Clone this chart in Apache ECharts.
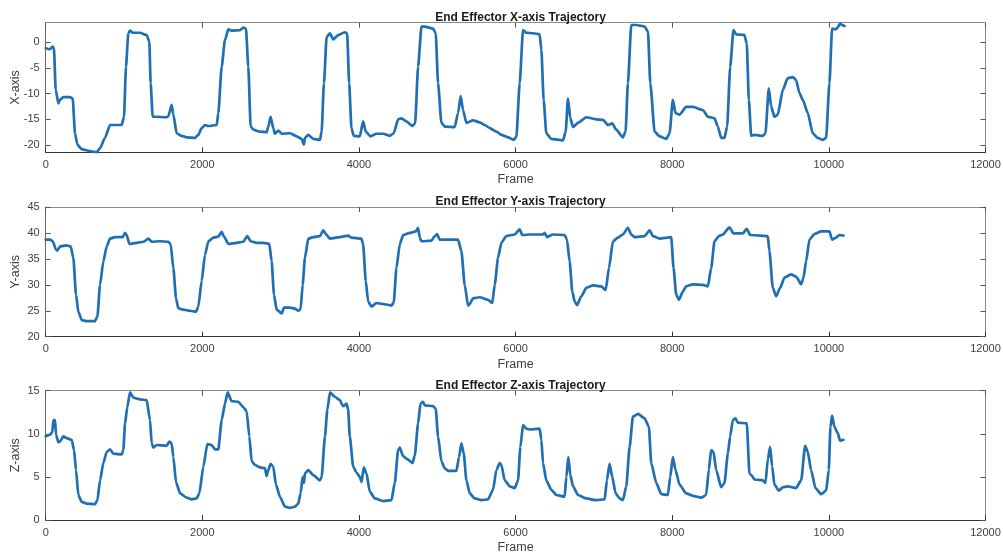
<!DOCTYPE html>
<html>
<head>
<meta charset="utf-8">
<script src="https://cdn.jsdelivr.net/npm/echarts@6/dist/echarts.min.js"></script>
<style>
html,body{margin:0;padding:0;background:#fff;}
#chart{width:1003px;height:557px;}
</style>
</head>
<body>
<div id="chart"></div>
<script>
// ---- data (frame, value) ----
const xFrames = [0,55,89,105,128,162,183,225,310,345,374,404,460,545,651,694,757,821,885,970,1000,1025,1055,1077,1111,1204,1289,1323,1340,1366,1396,1544,1566,1608,1630,1672,1736,1800,1906,1949,1991,2034,2077,2183,2204,2247,2289,2332,2374,2481,2523,2557,2587,2617,2651,2736,2821,2842,2872,2906,2927,2970,3013,3119,3204,3268,3298,3310,3353,3417,3502,3523,3553,3587,3630,3670,3734,3819,3849,3875,3904,3934,4011,4053,4087,4147,4223,4309,4393,4444,4500,4542,4606,4683,4717,4755,4798,4840,4946,4980,5010,5053,5095,5223,5265,5299,5329,5372,5457,5542,5606,5670,5755,5818,5903,5976,6010,6052,6095,6137,6222,6307,6329,6358,6392,6456,6605,6639,6669,6699,6733,6797,6903,7030,7116,7179,7234,7285,7370,7404,7434,7477,7541,7647,7690,7720,7775,7839,7923,7966,8008,8042,8093,8178,8263,8391,8455,8540,8582,8625,8667,8701,8740,8782,8816,8922,8952,8978,9008,9050,9156,9190,9233,9263,9305,9348,9412,9475,9540,9582,9624,9667,9731,9794,9858,9922,9965,10007,10041,10083,10113,10143,10169,10199];
const xVals = [-1.2,-1.4,-0.9,-1.2,-9.3,-11.9,-11.2,-10.7,-10.7,-11,-17.7,-19.9,-20.8,-21.1,-21.4,-20.6,-18.6,-16.1,-16.1,-16.1,-14.5,-4.8,1.7,2.2,1.8,1.8,1.35,0.06,-8,-14.5,-14.5,-14.6,-14.4,-12.2,-14.1,-17.7,-18.2,-18.5,-18.6,-18,-16.7,-16.1,-16.3,-16.1,-13.8,-4.8,0.4,2.45,2.2,2.3,2.8,2.6,-4.8,-16.4,-17,-17.4,-17.5,-16.4,-14.5,-16.7,-17.8,-17.2,-17.8,-17.7,-18.3,-18.8,-19.9,-18.6,-18,-18.8,-19,-17.4,-8,1,1.7,0.5,1.35,1.9,1.7,-8,-16.7,-18.2,-18.3,-15.4,-17.4,-18.3,-17.8,-17.8,-18.2,-17.7,-15,-14.8,-15.4,-16.3,-15.8,-4.8,3,3,2.6,1.7,-8,-15.7,-16.4,-16.5,-13.8,-10.5,-13.2,-15.7,-15.2,-15.6,-16.1,-16.7,-17.4,-18,-18.5,-19,-18.4,-8,2.3,1.8,1.7,1.5,-1.5,-11.2,-17.7,-18.8,-19.1,-17.4,-11,-14.8,-16.5,-15.7,-14.6,-15,-15.1,-16.1,-15.8,-17,-18.5,-17.4,-8,3.3,3.3,3,2,-8,-17.4,-18.3,-18.8,-17.7,-11.2,-13.8,-14.1,-12.6,-12.6,-13.2,-14.5,-14.8,-16.4,-18.6,-18.6,-16.4,-4.8,2.3,1.5,1.35,-0.3,-11.2,-18.2,-18,-18.2,-17.7,-9,-12.5,-14.5,-14.1,-9.3,-7,-6.8,-7.4,-9.9,-11.2,-13.8,-17.7,-18.6,-19,-18.6,-8,2.6,2.45,2.8,3.6,3.3,3.1];

const yFrames = [0,55,89,132,149,183,268,319,353,387,417,460,523,630,660,694,736,779,821,885,983,1013,1034,1068,1162,1247,1311,1353,1459,1566,1596,1630,1664,1693,1757,1842,1919,1949,1991,2034,2077,2140,2204,2247,2276,2332,2438,2523,2574,2617,2693,2778,2855,2885,2915,2949,3013,3042,3119,3183,3225,3255,3281,3310,3353,3417,3502,3544,3587,3630,3757,3862,3904,4032,4053,4087,4117,4160,4223,4309,4415,4444,4478,4521,4564,4649,4725,4755,4776,4798,4925,4968,4997,5031,5159,5265,5308,5350,5393,5414,5457,5542,5648,5703,5733,5776,5818,5882,5989,6052,6086,6180,6350,6371,6401,6477,6626,6656,6690,6724,6754,6784,6839,6903,6988,7094,7150,7192,7243,7307,7370,7434,7477,7520,7647,7711,7754,7839,7987,8017,8051,8085,8136,8178,8263,8391,8455,8497,8540,8595,8646,8731,8782,8901,8952,8995,9114,9220,9241,9284,9327,9378,9433,9518,9582,9646,9675,9709,9752,9816,9901,10007,10041,10092,10135,10186];
const yVals = [38.7,38.7,38.4,36.8,36.6,37.4,37.6,37.4,35.2,28.1,24.8,23.2,23,23,23.9,30,34.5,37.4,38.9,39.2,39.2,40,39.6,37.9,38.1,38.3,38.9,38.3,38.4,38.3,37.8,33.2,27.4,25.5,25.2,25,24.8,25.8,30.7,35.8,38.4,39.1,39.3,40.2,39.3,37.9,38.1,38.3,39.4,38.4,38.1,38.1,37.9,34.5,28.1,25.2,24.5,25.6,25.6,25.4,25,25.3,30,35.2,38.9,39.2,39.4,40.5,39.6,38.9,39.2,39.5,39.1,38.9,37.8,30.7,26.8,25.8,26.5,26.3,26,26.6,33.2,37.8,39.6,40,40.3,41,39.1,38.4,38.5,39.4,39.8,38.7,38.7,38.7,36.5,30,26,26.3,27.4,27.6,27.1,26.5,30,35.2,38.1,39.4,39.7,40.7,39.6,39.7,39.7,40,39.2,39.7,39.6,38.7,34.5,28.7,26.8,26.1,27.8,29.4,29.9,29.7,29,33.2,38.4,39.1,39.7,41,39.7,39.2,39.4,40.5,39.4,38.9,39.2,33.2,28.1,27.1,28.7,29.7,30.1,30,29.7,33.2,38.4,39.4,39.7,41.1,39.9,39.9,40.8,39.6,39.5,39.4,36.5,29.4,27.8,29.4,31.4,32,31.6,30.1,31.3,34.5,38.7,39.8,40.3,40.3,38.7,39.1,39.6,39.5];

const zFrames = [0,55,85,98,119,132,162,183,225,268,332,362,387,417,460,523,630,660,694,736,779,821,864,970,991,1013,1042,1077,1119,1204,1289,1332,1353,1374,1417,1544,1579,1608,1630,1664,1715,1800,1864,1927,1962,2013,2064,2119,2162,2204,2247,2289,2323,2374,2459,2523,2566,2600,2630,2672,2736,2800,2821,2842,2872,2906,2940,2991,3055,3119,3183,3225,3255,3281,3298,3310,3353,3417,3502,3523,3566,3596,3630,3692,3756,3798,3841,3862,3883,3926,3968,4011,4032,4062,4096,4138,4202,4309,4415,4457,4500,4521,4564,4627,4683,4713,4755,4785,4819,4840,4946,4980,5010,5053,5095,5138,5244,5278,5308,5338,5372,5414,5478,5563,5648,5712,5755,5797,5818,5861,5925,5989,6031,6061,6095,6137,6180,6307,6329,6350,6392,6456,6520,6626,6648,6673,6699,6733,6797,6903,7030,7137,7166,7200,7234,7277,7328,7370,7413,7456,7498,7562,7647,7702,7732,7796,7860,7945,7974,8008,8042,8093,8178,8263,8370,8433,8467,8497,8527,8561,8625,8667,8710,8740,8774,8808,8837,8952,8986,9020,9050,9156,9190,9220,9250,9276,9305,9361,9412,9475,9582,9646,9697,9731,9773,9829,9901,9965,9999,10020,10041,10071,10113,10143,10186];
const zVals = [9.7,9.9,10.2,11.6,11.6,9.9,9,9.1,9.7,9.5,9.3,8.1,5.8,2.9,2.1,1.9,1.85,2.3,4.6,6.6,7.9,8.2,7.7,7.6,8.1,11.2,13.1,14.8,14.2,14,13.9,11.6,8.9,8.4,8.7,8.6,9.1,8.9,7.3,4.4,3.1,2.6,2.4,2.5,3.1,6.2,8.8,8.7,8.2,8.2,11.6,13.5,14.8,13.8,13.7,13.1,12.6,9.7,6.8,6.4,6.1,6,5.1,5.8,6.5,6.2,4.1,2.7,1.55,1.4,1.55,1.9,3.1,5,4.3,5.4,5.8,5.2,4.6,5,9.7,12.8,14.8,14.3,13.9,13.2,13.5,12.8,9.7,6.2,5.5,5,4.4,6.1,5.4,3.3,2.5,2.2,2.3,4.3,8.1,8.4,7.4,7,6.6,7.5,11.2,13.5,13.7,13.3,13.2,12.9,9.7,6.8,6,5.7,5.7,7.3,8.9,7.7,4.6,3.1,2.5,2.3,2.4,3.5,5.8,6.6,6.4,4.6,3.9,3.7,4.6,8.5,11,10.6,10.5,10.6,9.3,6.6,4.6,3.5,2.9,2.7,5,7.3,5.2,3.9,2.9,2.5,2.3,2.4,4.6,6.5,5,3.1,2.5,2.3,3.9,8.5,12,12.3,11.8,10.8,6.6,4.3,3,2.9,5,7.3,5.8,4.1,3.1,2.8,2.6,2.9,5.8,8.1,7.9,5.8,3.8,4.3,7.7,9.7,11.6,11.8,11.3,11.2,5.4,5.1,4.7,4.6,4.3,7,8.5,6.2,4.1,3.4,3.8,3.9,3.7,4.6,8.6,7.9,5.8,3.7,3,3.4,5.8,10.8,12.1,10.8,10.1,9.2,9.3];

const titles = ['End Effector X-axis Trajectory','End Effector Y-axis Trajectory','End Effector Z-axis Trajectory'];
const yNames = ['X-axis','Y-axis','Z-axis'];
const yMin = [-21.4, 20, 0];
const yMax = [3.75, 45, 15];
const yTicks = [[-20,-15,-10,-5,0],[20,25,30,35,40,45],[0,5,10,15]];
const xTicks = [0,2000,4000,6000,8000,10000,12000];

const frames = [xFrames, yFrames, zFrames];
const vals = [xVals, yVals, zVals];

const FONT = 'Liberation Sans, Arial, Helvetica, sans-serif';
const gridTops = [22.7, 207, 390.7];
const gridH = [129.6, 129.7, 129.3];
const plain = v => String(v);

const grids = [], xAxes = [], yAxes = [], series = [], titleArr = [];
for (let i = 0; i < 3; i++) {
  grids.push({left: 45.7, width: 939.8, top: gridTops[i], height: gridH[i],
    containLabel: false, outerBoundsMode: 'none'});
  titleArr.push({text: titles[i], left: 515.6, textAlign: 'center', top: gridTops[i] - 16,
    textStyle: {fontFamily: FONT, fontSize: 12, fontWeight: 'bold', color: '#1a1a1a'}});
  xAxes.push({
    gridIndex: i, type: 'value', min: 0, max: 12000, interval: 2000, position: 'bottom',
    name: 'Frame', nameLocation: 'middle', nameGap: 21, nameMoveOverlap: false,
    nameTextStyle: {fontFamily: FONT, fontSize: 12.5, color: '#404040'},
    axisLine: {show: true, onZero: false, lineStyle: {color: '#333333', width: 1}},
    axisTick: {show: true, inside: true, length: 5, lineStyle: {color: '#333333'}},
    axisLabel: {fontFamily: FONT, fontSize: 11, color: '#404040', margin: 7,
      customValues: xTicks, formatter: plain, hideOverlap: false},
    splitLine: {show: false}
  });
  xAxes.push({
    gridIndex: i, type: 'value', min: 0, max: 12000, interval: 2000, position: 'top',
    axisLine: {show: true, onZero: false, lineStyle: {color: '#8a8a8a', width: 1}},
    axisTick: {show: true, inside: true, length: 5, lineStyle: {color: '#555555'}},
    axisLabel: {show: false}, splitLine: {show: false}
  });
  yAxes.push({
    gridIndex: i, type: 'value', min: yMin[i], max: yMax[i], position: 'left',
    name: yNames[i], nameLocation: 'middle', nameGap: 24, nameRotate: 90, nameMoveOverlap: false,
    nameTextStyle: {fontFamily: FONT, fontSize: 12.5, color: '#404040'},
    axisLine: {show: true, onZero: false, lineStyle: {color: '#666666', width: 1}},
    axisTick: {show: true, inside: true, length: 5, customValues: yTicks[i], lineStyle: {color: '#555555'}},
    axisLabel: {fontFamily: FONT, fontSize: 11, color: '#404040', margin: 6,
      customValues: yTicks[i], formatter: plain},
    splitLine: {show: false}
  });
  yAxes.push({
    gridIndex: i, type: 'value', min: yMin[i], max: yMax[i], position: 'right',
    axisLine: {show: true, onZero: false, lineStyle: {color: '#8a8a8a', width: 1}},
    axisTick: {show: true, inside: true, length: 5, customValues: yTicks[i], lineStyle: {color: '#555555'}},
    axisLabel: {show: false}, splitLine: {show: false}
  });
  series.push({
    type: 'line', xAxisIndex: 2 * i, yAxisIndex: 2 * i,
    data: frames[i].map((f, k) => [f, vals[i][k]]),
    showSymbol: false, symbol: 'none', smooth: 0.2, smoothMonotone: 'x',
    lineStyle: {color: '#1f6fb2', width: 2.7, join: 'round', cap: 'round'},
    animation: false
  });
}

const chart = echarts.init(document.getElementById('chart'), null, {renderer: 'canvas'});
chart.setOption({
  backgroundColor: '#ffffff',
  animation: false,
  title: titleArr,
  grid: grids,
  xAxis: xAxes,
  yAxis: yAxes,
  series: series
});
</script>
</body>
</html>
